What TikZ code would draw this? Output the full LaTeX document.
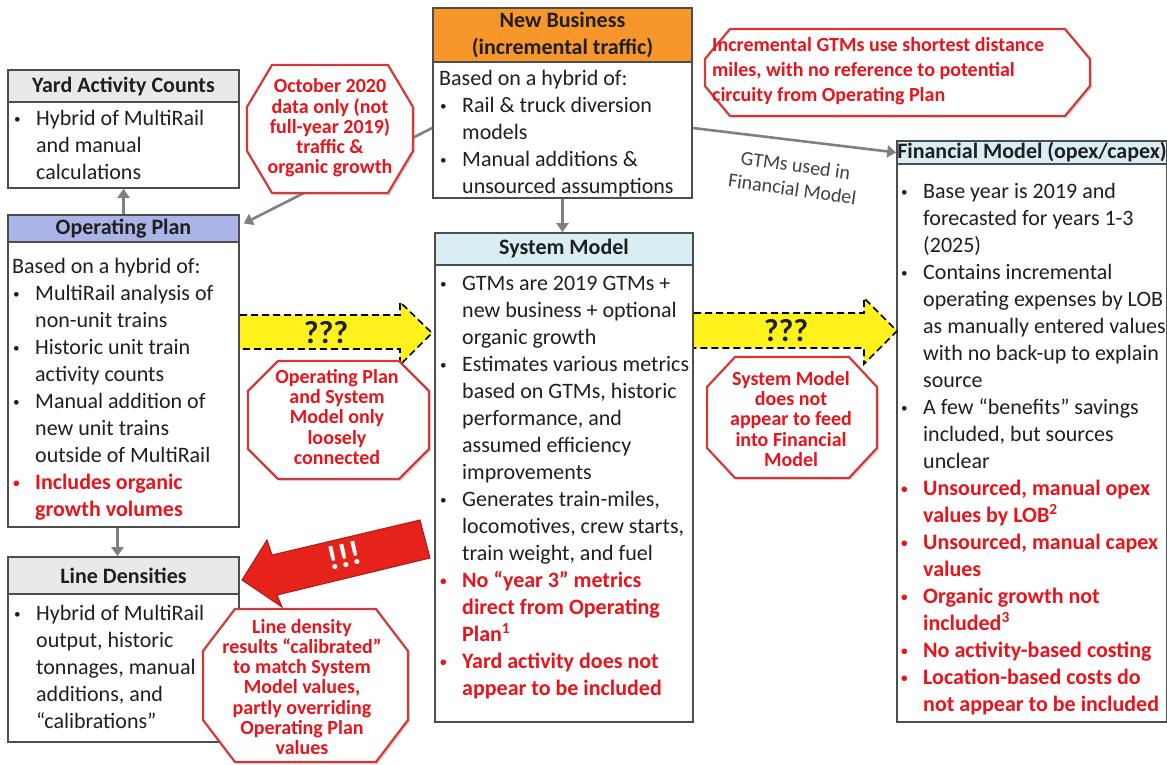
\documentclass[tikz,border=0pt]{standalone}
\usepackage{fontspec}
\usepackage{graphicx}
\setmainfont{Carlito}
\usetikzlibrary{arrows.meta,shadows}
\definecolor{boxc}{HTML}{4D4D4D}
\definecolor{txt}{HTML}{1F1F1F}
\definecolor{redtxt}{HTML}{E8141B}
\definecolor{grayhdr}{HTML}{E9E9EB}
\definecolor{ophdr}{HTML}{AAB4E6}
\definecolor{nbhdr}{HTML}{F7962A}
\definecolor{smhdr}{HTML}{D9EEF4}
\definecolor{garc}{HTML}{808080}
\definecolor{yel}{HTML}{FFF21C}
\definecolor{calloutc}{HTML}{D23A3A}
\definecolor{redarr}{HTML}{E5231B}
\newcommand\bul{\makebox[23pt][l]{\hspace*{1pt}\raisebox{1.5pt}{\scalebox{0.6}{\textbullet}}}}
\newcommand\ind{\hspace*{23pt}}
\newcommand\rd[1]{{\color{redtxt}\bfseries #1}}
\begin{document}
\begin{tikzpicture}[x=1pt,y=-1pt,
  box/.style={draw=boxc, line width=1.6pt, fill=white, inner sep=0},
  hdr/.style={draw=boxc, line width=1.6pt, inner sep=0, align=center, text=txt,
    font=\fontsize{22}{27}\selectfont\bfseries},
  body/.style={anchor=north west, inner sep=0, align=left, text=txt,
    font=\fontsize{22}{27}\selectfont},
  callout/.style={draw=calloutc, line width=2.2pt, fill=white,
    drop shadow={opacity=0.3, shadow xshift=2pt, shadow yshift=-2pt}},
  oct/.style n args={6}{insert path={(#1+#5,#2) -- (#3-#5,#2) -- (#3,#2+#6) -- (#3,#4-#6) -- (#3-#5,#4) -- (#1+#5,#4) -- (#1,#4-#6) -- (#1,#2+#6) -- cycle}},
  ctext/.style={inner sep=0, align=center, text=redtxt,
    font=\fontsize{20}{20.2}\selectfont\bfseries},
  garrow/.style={draw=garc, line width=2.6pt, -{Triangle[length=9pt,width=12pt]}},
  yarrow/.style={fill=yel, draw=black, line width=1.6pt, dash pattern=on 7pt off 4pt},
  rarrow/.style={fill=redarr, draw=redarr!75!black, line width=1pt},
  qmark/.style={inner sep=0, font=\fontsize{32}{32}\selectfont\bfseries, text=txt}
]
\useasboundingbox (0,0) rectangle (1167,765);
\fill[white] (0,0) rectangle (1167,765);

% ---------- boxes ----------
% Yard Activity Counts
\node[box, minimum width=231pt, minimum height=118pt] (yard) at (123.5,129) {};
\node[hdr, fill=grayhdr, minimum width=231pt, minimum height=32pt] (yardh) at (123.5,86) {Yard Activity Counts};
\node[body] (yardb) at (13,106.1) {\strut\bul Hybrid of MultiRail\\ \ind and manual\\ \ind calculations};

% Operating Plan
\node[box, minimum width=231pt, minimum height=312pt] (op) at (123.5,371) {};
\node[hdr, fill=ophdr, minimum width=231pt, minimum height=27pt] (oph) at (123.5,228.5) {Operating Plan};
\node[body] (opb) at (12,254.1) {\strut Based on a hybrid of:\\
 \bul MultiRail analysis of\\ \ind non-unit trains\\
 \bul Historic unit train\\ \ind activity counts\\
 \bul Manual addition of\\ \ind new unit trains\\ \ind outside of MultiRail\\
 \rd{\bul Includes organic}\\ \rd{\ind growth volumes}};

% Line Densities
\node[box, minimum width=231pt, minimum height=185pt] (ld) at (123.5,649.5) {};
\node[hdr, fill=grayhdr, minimum width=231pt, minimum height=37pt] (ldh) at (123.5,575.5) {Line Densities};
\node[body] (ldb) at (13,601.1) {\strut\bul Hybrid of MultiRail\\ \ind output, historic\\ \ind tonnages, manual\\ \ind additions, and\\ \ind “calibrations”};

% New Business
\node[box, minimum width=259pt, minimum height=190pt] (nb) at (562.5,103) {};
\node[hdr, fill=nbhdr, minimum width=259pt, minimum height=54pt] (nbh) at (562.5,35) {New Business\\(incremental traffic)};
\node[body] (nbb) at (439,66.1) {\strut Based on a hybrid of:\\
 \bul Rail \& truck diversion\\ \ind models\\
 \bul Manual additions \&\\ \ind unsourced assumptions};

% System Model
\node[box, minimum width=258pt, minimum height=489pt] (sm) at (564,477.5) {};
\node[hdr, fill=smhdr, minimum width=258pt, minimum height=32pt] (smh) at (564,249) {System Model};
\node[body] (smb) at (439,271.1) {\strut\bul GTMs are 2019 GTMs +\\ \ind new business + optional\\ \ind organic growth\\
 \bul Estimates various metrics\\ \ind based on GTMs, historic\\ \ind performance, and\\ \ind assumed efficiency\\ \ind improvements\\
 \bul Generates train-miles,\\ \ind locomotives, crew starts,\\ \ind train weight, and fuel\\
 \rd{\bul No “year 3” metrics}\\ \rd{\ind direct from Operating}\\ \rd{\ind Plan\textsuperscript{1}}\\
 \rd{\bul Yard activity does not}\\ \rd{\ind appear to be included}};

% Financial Model
\node[box, minimum width=270pt, minimum height=581pt] (fm) at (1032,431.5) {};
\node[hdr, fill=smhdr, minimum width=270pt, minimum height=23pt] (fmh) at (1032,152.5) {Financial Model (opex/capex)};
\node[body] (fmb) at (900,179.1) {\strut\bul Base year is 2019 and\\ \ind forecasted for years 1-3\\ \ind (2025)\\
 \bul Contains incremental\\ \ind operating expenses by LOB\\ \ind as manually entered values\\ \ind with no back-up to explain\\ \ind source\\
 \bul A few “benefits” savings\\ \ind included, but sources\\ \ind unclear\\
 \rd{\bul Unsourced, manual opex}\\ \rd{\ind values by LOB\textsuperscript{2}}\\
 \rd{\bul Unsourced, manual capex}\\ \rd{\ind values}\\
 \rd{\bul Organic growth not}\\ \rd{\ind included\textsuperscript{3}}\\
 \rd{\bul No activity-based costing}\\
 \rd{\bul Location-based costs do}\\ \rd{\ind not appear to be included}};

% ---------- gray connectors ----------
\draw[garrow] (op.north) -- (yard.south);
\draw[garrow] ([xshift=-6pt]op.south) -- ([xshift=-6pt]ld.north);
\draw[garrow] (nb.south) -- (nb.south |- sm.north);
\draw[garrow] ([yshift=-25pt]nb.west) -- ([xshift=4pt,yshift=5pt]oph.east);
\draw[garrow] ([yshift=-25pt]nb.east) -- (fmh.west);
\node[inner sep=0, align=center, text=txt!85, rotate=-8,
  font=\fontsize{20}{24}\selectfont] (gtm) at (794,177) {GTMs used in\\Financial Model};

% ---------- yellow dashed block arrows ----------
\path[yarrow] (240,315) -- (400,315) -- (400,302) -- (432,333) -- (400,365) -- (400,349) -- (240,349);
\node[qmark] (q1) at (326,333) {???};
\path[yarrow] (694,313) -- (864,313) -- (864,298) -- (897,331) -- (864,364) -- (864,348) -- (694,348);
\node[qmark] (q2) at (786,331) {???};

% ---------- red block arrow ----------
\path[rarrow] (420,520) -- (272,555) -- (267,540) -- (242,580) -- (282,607) -- (277,595) -- (430,558) -- cycle;
\node[inner sep=0, text=white, rotate=13, font=\fontsize{34}{34}\selectfont\bfseries] (ex) at (344,556) {!!!};

% ---------- callouts ----------
\path[callout, oct={247}{65}{413}{193}{25}{42}];
\node[ctext] (c1) at (330,128) {October 2020\\data only (not\\full-year 2019)\\traffic \&\\organic growth};

\path[callout, oct={705}{29}{1090}{116}{25}{30}];
\node[ctext, align=left, anchor=west, font=\fontsize{20}{25}\selectfont\bfseries] (c2) at (712,71) {Incremental GTMs use shortest distance\\miles, with no reference to potential\\circuity from Operating Plan};

\path[callout, oct={248}{361}{429}{479}{30}{30}];
\node[ctext] (c3) at (337,417) {Operating Plan\\and System\\Model only\\loosely\\connected};

\path[callout, oct={707}{357}{877}{478}{28}{30}];
\node[ctext] (c4) at (791,419) {System Model\\does not\\appear to feed\\into Financial\\Model};

\path[callout, oct={203}{609}{408}{762}{32}{42}];
\node[ctext] (c5) at (302,687) {Line density\\results “calibrated”\\to match System\\Model values,\\partly overriding\\Operating Plan\\values};
\end{tikzpicture}
\end{document}
